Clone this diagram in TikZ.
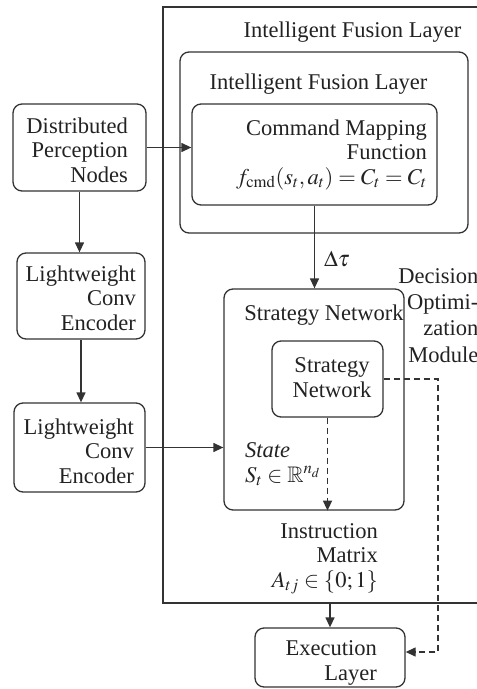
\documentclass[tikz,border=0pt]{standalone}
\usepackage{mathptmx}
\usepackage{amssymb}
\usepackage{fontspec}
\setmainfont{Liberation Serif}
\usetikzlibrary{arrows.meta}
\definecolor{ink}{HTML}{333333}
\definecolor{txt}{HTML}{222222}

\begin{document}
\begin{tikzpicture}[x=1bp,y=-1bp,
  frame/.style={draw=ink, line width=1.3bp, inner sep=0pt},
  box/.style={frame, rounded corners=9bp},
  lbl/.style={inner sep=0pt, text=txt, font=\fontsize{22.6}{24.5}\selectfont},
  arr/.style={draw=ink, line width=1.3bp, -{Triangle[length=10bp,width=9bp]}},
  darr/.style={arr, dash pattern=on 6bp off 4bp},
]
\useasboundingbox (0,0) rectangle (477,689);

% containers
\node[frame, minimum width=332bp, minimum height=596bp] (layer) at (329,305) {};
\node[box, minimum width=288bp, minimum height=181bp] (fusion) at (324,142.5) {};
\node[box, minimum width=245bp, minimum height=101bp] (cmd) at (314.5,154.5) {};
\node[box, minimum width=180bp, minimum height=221bp] (stratout) at (314,399.5) {};
\node[box, minimum width=111bp, minimum height=76bp] (stratin) at (327.5,379) {};
\node[box, minimum width=150bp, minimum height=59bp] (exec) at (330,657.5) {};

% left column
\node[box, minimum width=133bp, minimum height=87bp] (dpn) at (79.5,147.5) {};
\node[box, minimum width=128bp, minimum height=86bp] (lw1) at (81,296) {};
\node[box, minimum width=131bp, minimum height=89bp] (lw2) at (79.5,447.5) {};

% labels (multi-line labels are anchored at the baseline of their last line)
\node[lbl, anchor=base] (layertitle) at (352.5,38) {Intelligent Fusion Layer};
\node[lbl, anchor=base] (fusiontitle) at (318.5,90) {Intelligent Fusion Layer};
\node[lbl, anchor=base east, align=right] (cmdtext) at (427,184)
  {Command Mapping\\Function\\$f_{\mathrm{cmd}}(s_t,a_t)=C_t=C_t$};
\node[lbl, anchor=base] (strattitle) at (324,320) {Strategy Network};
\node[lbl, anchor=base, align=center] (stratintext) at (332,397) {Strategy\\Network};
\node[lbl, anchor=base west, align=left] (statetext) at (245,482)
  {\textit{State}\\$S_t\in\mathbb{R}^{n_d}$};
\node[lbl, anchor=base west] (dtau) at (324,266) {$\Delta\tau$};
\node[lbl, anchor=base east, align=right] (instr) at (378,587)
  {Instruction\\Matrix\\$A_{tj}\in\{0;1\}$};
\node[lbl, anchor=base east, align=right, font=\fontsize{22.6}{26.3}\selectfont] (dom) at (478.5,362)
  {Decision\\Optimi-\\zation\\Module};
\node[lbl, anchor=base east, align=right] (exectext) at (377,680) {Execution\\Layer};
\node[lbl, anchor=base east, align=right] (dpntext) at (128,182) {Distributed\\Perception\\Nodes};
\node[lbl, anchor=base east, align=right] (lw1text) at (136,330) {Lightweight\\Conv\\Encoder};
\node[lbl, anchor=base east, align=right] (lw2text) at (134,483) {Lightweight\\Conv\\Encoder};

% connectors
\draw[arr] (dpn.east) -- (dpn.east -| cmd.west);
\draw[arr] (dpn.south) -- (dpn.south |- lw1.north);
\draw[arr] (lw1.south) -- (lw1.south |- lw2.north);
\draw[arr] (lw2.east) -- (lw2.east -| stratout.west);
\draw[arr] (cmd.south) -- (cmd.south |- stratout.north);
\draw[darr] (stratin.south) -- (stratin.south |- stratout.south);
\coordinate (dcorner) at (438,652);
\draw[darr] (stratin.east) -| (dcorner) -- (dcorner -| exec.east);
\draw[arr] (exec.north |- layer.south) -- (exec.north);
\end{tikzpicture}
\end{document}
